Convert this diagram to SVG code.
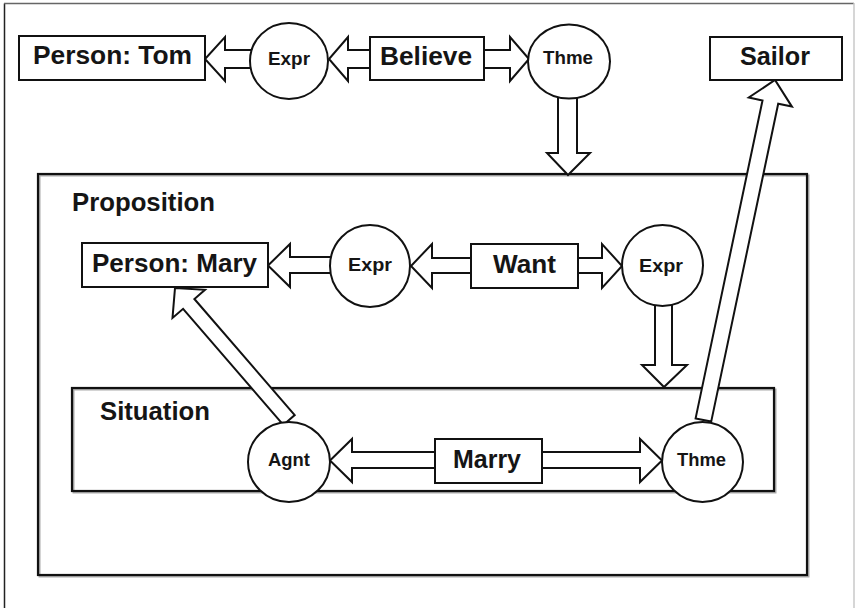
<svg xmlns="http://www.w3.org/2000/svg" width="856" height="608" viewBox="0 0 856 608">
  <style>
    .frame { fill: none; stroke-width: 1.5; }
    .container { fill: none; stroke: #111; stroke-width: 2.2; }
    .shadow { fill: none; stroke: #aaa; stroke-width: 2; }
    .node { fill: #fff; stroke: #111; stroke-width: 2; }
    .arrow { fill: #fff; stroke: #111; stroke-width: 2; stroke-linejoin: miter; }
    text { font-family: "Liberation Sans", Arial, Helvetica, sans-serif; font-weight: bold; fill: #151515; }
    .box { font-size: 25px; text-anchor: middle; }
    .role { font-size: 18px; text-anchor: middle; }
    .head { font-size: 25px; }
  </style>

  <rect width="856" height="608" fill="#fff"/>

  <!-- outer frame -->
  <g id="frame">
    <line x1="4.5" y1="3.5" x2="4.5" y2="608" class="frame" stroke="#222"/>
    <line x1="4" y1="3.5" x2="854" y2="3.5" class="frame" stroke="#666"/>
    <line x1="854" y1="3" x2="854" y2="608" class="frame" stroke="#c8c8c8"/>
  </g>

  <!-- nested contexts -->
  <g id="proposition">
    <rect x="39.5" y="175.5" width="769" height="401" class="shadow"/>
    <rect x="38" y="174" width="769" height="401" class="container"/>
    <text x="72" y="211" class="head" textLength="143" lengthAdjust="spacingAndGlyphs">Proposition</text>
  </g>
  <g id="situation">
    <rect x="73.5" y="389.5" width="702" height="103" class="shadow"/>
    <rect x="72" y="388" width="702" height="103" class="container"/>
    <text x="100" y="420" class="head" textLength="110" lengthAdjust="spacingAndGlyphs">Situation</text>
  </g>

  <!-- block arrows between concepts and relations -->
  <g id="connectors">
    <!-- Expr -> Person: Tom -->
    <polygon class="arrow" points="256,50 225,50 225,37 205,59 225,81 225,68 256,68"/>
    <!-- Believe -> Expr -->
    <polygon class="arrow" points="371,50 348,50 348,37 329,59 348,81 348,68 371,68"/>
    <!-- Believe -> Thme -->
    <polygon class="arrow" points="483,50 510,50 510,37 529,59 510,81 510,68 483,68"/>
    <!-- Thme -> Proposition -->
    <polygon class="arrow" points="558,92 558,153 547,153 568,175 590,153 577,153 577,92"/>
    <!-- Expr -> Person: Mary -->
    <polygon class="arrow" points="336,257 290,257 290,244 268,265.5 290,287 290,273 336,273"/>
    <!-- Want -> Expr -->
    <polygon class="arrow" points="472,258 432,258 432,244 411,266 432,288 432,273 472,273"/>
    <!-- Want -> Expr -->
    <polygon class="arrow" points="577,258 602,258 602,244 622,266 602,288 602,273 577,273"/>
    <!-- Expr -> Situation -->
    <polygon class="arrow" points="655,300 655,365 642,365 664,387 687,365 672,365 672,300"/>
    <!-- Marry -> Agnt -->
    <polygon class="arrow" points="436,452 352,452 352,439 330,460.5 352,482 352,468 436,468"/>
    <!-- Marry -> Thme -->
    <polygon class="arrow" points="541,452 640,452 640,439 662,460.5 640,482 640,468 541,468"/>
    <!-- Agnt -> Person: Mary -->
    <polygon class="arrow" points="294.7,415.1 194.4,299 205,289.8 175,288 172.5,317.9 183.1,308.8 283.3,424.9"/>
    <!-- Thme -> Sailor -->
    <polygon class="arrow" points="711.2,421.6 778.2,103.7 791.9,106.6 775,80 748.8,97.5 762.5,100.4 695.6,418.4"/>
  </g>

  <!-- concepts -->
  <g id="person-tom">
    <rect x="19" y="36" width="186" height="44" class="node"/>
    <text x="112.5" y="64" class="box" textLength="159" lengthAdjust="spacingAndGlyphs">Person: Tom</text>
  </g>
  <g id="believe">
    <rect x="370" y="37" width="114" height="43" class="node"/>
    <text x="426" y="65" class="box" textLength="92" lengthAdjust="spacingAndGlyphs">Believe</text>
  </g>
  <g id="sailor">
    <rect x="710" y="37" width="132" height="43" class="node"/>
    <text x="775" y="65" class="box" textLength="70" lengthAdjust="spacingAndGlyphs">Sailor</text>
  </g>
  <g id="person-mary">
    <rect x="82" y="243" width="186" height="44" class="node"/>
    <text x="174.5" y="272" class="box" textLength="165" lengthAdjust="spacingAndGlyphs">Person: Mary</text>
  </g>
  <g id="want">
    <rect x="471" y="244" width="107" height="44" class="node"/>
    <text x="524.5" y="273" class="box" textLength="63" lengthAdjust="spacingAndGlyphs">Want</text>
  </g>
  <g id="marry">
    <rect x="435" y="439" width="107" height="44" class="node"/>
    <text x="487" y="468" class="box" textLength="68" lengthAdjust="spacingAndGlyphs">Marry</text>
  </g>

  <!-- relations -->
  <g id="expr-tom">
    <ellipse cx="289" cy="61" rx="39" ry="38" class="node"/>
    <text x="289" y="65" class="role" textLength="42" lengthAdjust="spacingAndGlyphs">Expr</text>
  </g>
  <g id="thme-believe">
    <ellipse cx="569" cy="61.5" rx="41" ry="37" class="node"/>
    <text x="568" y="64" class="role" textLength="50" lengthAdjust="spacingAndGlyphs">Thme</text>
  </g>
  <g id="expr-mary">
    <ellipse cx="370" cy="266" rx="40" ry="41" class="node"/>
    <text x="370" y="271" class="role" textLength="44" lengthAdjust="spacingAndGlyphs">Expr</text>
  </g>
  <g id="expr-want">
    <ellipse cx="662.5" cy="265.5" rx="40.5" ry="40.5" class="node"/>
    <text x="661" y="272" class="role" textLength="44" lengthAdjust="spacingAndGlyphs">Expr</text>
  </g>
  <g id="agnt">
    <ellipse cx="289" cy="462" rx="41" ry="40" class="node"/>
    <text x="289" y="466" class="role" textLength="42" lengthAdjust="spacingAndGlyphs">Agnt</text>
  </g>
  <g id="thme-marry">
    <ellipse cx="702.5" cy="462" rx="40.5" ry="40" class="node"/>
    <text x="701.5" y="466" class="role" textLength="49" lengthAdjust="spacingAndGlyphs">Thme</text>
  </g>
</svg>
